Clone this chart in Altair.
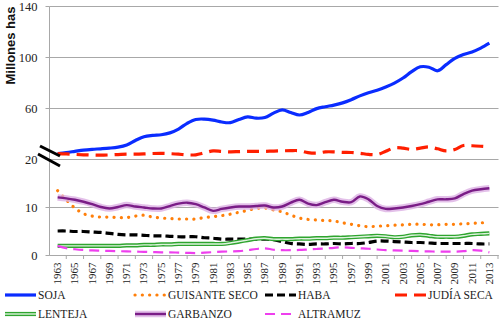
import altair as alt
import pandas as pd

# Superficie cosechada mundial de leguminosas (millones de hectáreas)
YEARS = list(range(1963, 2014))

SOJA = [24.2, 25.0, 26.0, 27.0, 27.6, 28.0, 28.5, 29.3, 31.0, 34.5,
        37.5, 38.5, 39.0, 40.5, 43.5, 48.0, 51.0, 51.3, 50.5, 49.0,
        48.5, 51.0, 53.0, 52.0, 52.5, 56.0, 58.5, 56.5, 54.5, 56.5,
        59.5, 61.0, 62.3, 64.0, 66.5, 69.5, 72.0, 74.0, 76.5, 79.5,
        83.5, 88.5, 92.3, 92.0, 89.2, 94.0, 99.0, 102.0, 104.0, 107.0,
        110.8]
GUISANTE = [13.4, 11.5, 9.8, 8.6, 8.1, 7.9, 7.9, 7.8, 7.8, 8.1,
            8.3, 7.9, 7.7, 7.6, 7.5, 7.5, 7.5, 7.8, 8.0, 8.2,
            8.5, 8.9, 9.3, 9.7, 9.8, 9.4, 9.0, 8.3, 7.7, 7.4,
            7.3, 7.2, 7.1, 6.7, 6.4, 6.1, 5.9, 6.0, 6.1, 6.2,
            6.3, 6.4, 6.4, 6.3, 6.3, 6.4, 6.4, 6.5, 6.6, 6.7,
            6.8]
HABA = [5.0, 5.0, 4.9, 4.9, 4.8, 4.7, 4.5, 4.3, 4.2, 4.2,
        4.1, 4.0, 4.0, 3.9, 3.8, 3.8, 3.8, 3.6, 3.5, 3.3,
        3.3, 3.3, 3.3, 3.3, 3.3, 3.2, 2.8, 2.4, 2.3, 2.2,
        2.3, 2.3, 2.4, 2.3, 2.4, 2.4, 2.6, 2.9, 2.9, 2.8,
        2.7, 2.6, 2.6, 2.5, 2.4, 2.4, 2.4, 2.4, 2.4, 2.3,
        2.3]
JUDIA = [24.2, 24.0, 23.6, 23.3, 23.1, 23.0, 23.2, 23.5, 23.8, 23.8,
         24.0, 24.3, 24.4, 24.2, 23.8, 23.2, 23.3, 24.8, 26.4, 26.0,
         25.6, 25.8, 26.0, 26.0, 26.0, 26.2, 26.4, 26.6, 26.5, 25.0,
         24.6, 25.6, 25.6, 25.2, 25.1, 24.5, 23.6, 23.5, 26.0, 28.8,
         28.5, 27.5, 28.5, 29.5, 28.0, 26.3, 27.5, 30.6, 30.4, 30.0,
         29.5]
LENTEJA = [1.9, 1.9, 1.9, 1.9, 1.9, 1.9, 1.9, 1.9, 2.0, 2.0,
           2.1, 2.1, 2.2, 2.2, 2.3, 2.3, 2.3, 2.3, 2.3, 2.3,
           2.5, 2.8, 3.1, 3.4, 3.5, 3.3, 3.3, 3.3, 3.4, 3.4,
           3.5, 3.5, 3.6, 3.6, 3.7, 3.8, 3.9, 4.0, 3.9, 3.7,
           3.8, 4.1, 4.2, 4.0, 3.8, 3.8, 3.8, 4.0, 4.3, 4.4,
           4.5]
GARBANZO = [12.0, 11.8, 11.5, 11.1, 10.6, 10.0, 9.7, 10.0, 10.4, 10.1,
            9.9, 9.7, 9.7, 10.2, 10.7, 10.9, 10.6, 9.9, 9.2, 9.6,
            9.9, 10.1, 10.1, 10.2, 10.3, 9.9, 10.1, 10.9, 11.5, 10.7,
            10.4, 11.0, 11.5, 11.1, 11.0, 12.2, 11.6, 10.2, 9.6, 9.7,
            9.9, 10.2, 10.6, 11.1, 11.6, 11.6, 11.8, 12.7, 13.4, 13.7,
            13.9]
ALTRAMUZ = [1.9, 1.4, 1.2, 1.05, 0.95, 0.9, 0.85, 0.8, 0.75, 0.7,
            0.65, 0.6, 0.55, 0.55, 0.5, 0.45, 0.4, 0.5, 0.6, 0.7,
            0.75, 0.8, 1.0, 1.25, 1.4, 1.1, 1.0, 1.0, 1.05, 1.15,
            1.25, 1.35, 1.5, 1.6, 1.5, 1.4, 1.3, 1.15, 1.0, 0.95,
            0.9, 0.85, 0.8, 0.75, 0.7, 0.7, 0.7, 0.8, 1.0, 0.9,
            0.55]

Y_TICKS = [0, 10, 20, 60, 100, 140]
X_LABELS = [y for y in YEARS if y % 2 == 1]
X_TICKS = list(range(1964, 2015, 2))

TOP = 6
W, H = 449, 249
Y20 = 153  # pixel row where the broken axis switches scale
GRID = "#a8a8a8"
SERIF = "Liberation Serif"

xs = alt.Scale(domain=[1962, 2014], nice=False, zero=False)
ys = alt.Scale(domain=[0, 20, 140], range=[H, Y20, 0], nice=False, zero=False)

x_axis = alt.Axis(values=X_LABELS, format="d", labelAngle=-90, ticks=False,
                  tickSize=0, grid=False, labelPadding=7, labelFont=SERIF,
                  labelFontSize=11, labelColor="#222", domainColor=GRID,
                  title=None, labelOverlap=False)
y_axis = alt.Axis(values=Y_TICKS, grid=True, gridColor=GRID, domainColor=GRID,
                  tickColor=GRID, tickSize=4, labelPadding=8, labelFont=SERIF,
                  labelFontSize=12.5, labelColor="#222",
                  title="Millones has", titleFont="Liberation Sans",
                  titleFontWeight="bold", titleFontSize=13, titleColor="#111",
                  titleAngle=-90, titleX=-39, titleY=39, titleAlign="center",
                  titleBaseline="middle")


def series_layer(values, **mark):
    df = pd.DataFrame({"Año": YEARS, "Valor": values})
    return alt.Chart(df).mark_line(interpolate="catmull-rom", **mark).encode(
        x=alt.X("Año:Q", scale=xs, axis=x_axis),
        y=alt.Y("Valor:Q", scale=ys, axis=y_axis),
    )


BLUE, ORANGE, RED = "#0a2cff", "#ff7f0a", "#ff1f00"
GREEN, GREEN_IN = "#2fa52f", "#dff3df"
PURPLE, PURPLE_HALO = "#7a1d87", "#dcb0e3"
MAGENTA = "#ee3fee"

# Each series: (name, values, list of stroke styles drawn bottom to top)
SERIES = [
    ("SOJA", SOJA, [dict(color=BLUE, strokeWidth=3.2)]),
    ("GUISANTE SECO", GUISANTE, [dict(color=ORANGE, strokeWidth=3.2,
                                      strokeDash=[0.1, 7.2], strokeCap="round")]),
    ("HABA", HABA, [dict(color="#000000", strokeWidth=3.2, strokeDash=[8, 4])]),
    ("JUDÍA SECA", JUDIA, [dict(color=RED, strokeWidth=3.2, strokeDash=[12, 7])]),
    ("LENTEJA", LENTEJA, [dict(color=GREEN, strokeWidth=4.2),
                          dict(color=GREEN_IN, strokeWidth=1.4)]),
    ("GARBANZO", GARBANZO, [dict(color=PURPLE_HALO, strokeWidth=6.5, opacity=0.8),
                            dict(color=PURPLE, strokeWidth=2.4)]),
    ("ALTRAMUZ", ALTRAMUZ, [dict(color=MAGENTA, strokeWidth=2.2, strokeDash=[10, 6])]),
]

layers = []
for name, vals, styles in SERIES:
    for st in styles:
        layers.append(series_layer(vals, **st))

# Small ticks on the category axis, between the year labels
tick_df = pd.DataFrame({"Año": X_TICKS})
layers.append(alt.Chart(tick_df).mark_rule(color=GRID, strokeWidth=1).encode(
    x=alt.X("Año:Q", scale=xs, axis=x_axis),
    y=alt.value(H), y2=alt.value(H + 4),
))

# Axis-break marks on the vertical axis
one = pd.DataFrame({"k": [0]})
for (x1, y1, x2, y2) in [(-9, 140, 11, 150), (-11, 148, 11, 160)]:
    layers.append(alt.Chart(one).mark_rule(color="#000000", strokeWidth=3).encode(
        x=alt.value(x1), y=alt.value(y1), x2=alt.value(x2), y2=alt.value(y2)))

# Legend below the plot: four columns, two rows
LEG_X0, LEG_COL, SYM_LEN = -44, 130, 31
LEG_ROWS = [295 - TOP, 314 - TOP]
for i, (name, vals, styles) in enumerate(SERIES):
    col, row = i % 4, i // 4
    sx = LEG_X0 + col * LEG_COL
    ly = LEG_ROWS[row]
    lab = pd.DataFrame({"serie": [name]})
    for st in styles:
        layers.append(alt.Chart(lab).mark_rule(**st).encode(
            x=alt.value(sx), x2=alt.value(sx + SYM_LEN), y=alt.value(ly)))
    layers.append(alt.Chart(lab).mark_text(
        align="left", baseline="middle", font=SERIF, fontSize=11.5,
        color="#1a1a1a").encode(
        x=alt.value(sx + SYM_LEN + 2), y=alt.value(ly + 0.5), text="serie:N"))

chart = alt.layer(*layers).properties(
    width=W, height=H,
    autosize=alt.AutoSizeParams(type="none"),
    padding={"left": 49, "top": TOP, "right": 2, "bottom": 322 - TOP - H},
    background="white",
).configure_view(stroke=None)

chart.save("out.html", embed_options={"renderer": "svg", "actions": False})
